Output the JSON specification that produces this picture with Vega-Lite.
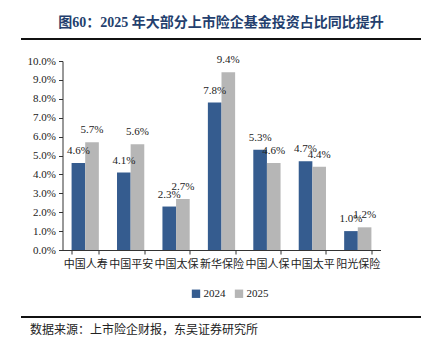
{
  "$schema": "https://vega.github.io/schema/vega-lite/v6.json",
  "padding": {"left": 20, "top": 16, "right": 6, "bottom": 0},
  "background": "white",
  "center": true,
  "spacing": 14,
  "resolve": {"legend": {"color": "independent"}, "scale": {"y": "independent", "x": "independent"}},
  "config": {
    "view": {"stroke": null},
    "font": "Liberation Serif"
  },
  "datasets": {
    "main": [
      {"company": "中国人寿", "year": "2024", "ratio": 0.046},
      {"company": "中国人寿", "year": "2025", "ratio": 0.057},
      {"company": "中国平安", "year": "2024", "ratio": 0.041},
      {"company": "中国平安", "year": "2025", "ratio": 0.056},
      {"company": "中国太保", "year": "2024", "ratio": 0.023},
      {"company": "中国太保", "year": "2025", "ratio": 0.027},
      {"company": "新华保险", "year": "2024", "ratio": 0.078},
      {"company": "新华保险", "year": "2025", "ratio": 0.094},
      {"company": "中国人保", "year": "2024", "ratio": 0.053},
      {"company": "中国人保", "year": "2025", "ratio": 0.046},
      {"company": "中国太平", "year": "2024", "ratio": 0.047},
      {"company": "中国太平", "year": "2025", "ratio": 0.044},
      {"company": "阳光保险", "year": "2024", "ratio": 0.010},
      {"company": "阳光保险", "year": "2025", "ratio": 0.012}
    ],
    "divider": [{"start": 0, "end": 1, "pos": 0}]
  },
  "vconcat": [
    {
      "width": 400,
      "height": 1,
      "title": {
        "text": "图60：2025 年大部分上市险企基金投资占比同比提升",
        "font": "Liberation Serif, Noto Sans CJK SC",
        "fontSize": 14,
        "fontWeight": "bold",
        "color": "#243F6E",
        "anchor": "middle",
        "offset": 8
      },
      "data": {"name": "divider"},
      "mark": {"type": "rule", "color": "#111111", "strokeWidth": 2},
      "encoding": {
        "x": {"field": "start", "type": "quantitative", "axis": null, "scale": {"domain": [0, 1]}},
        "x2": {"field": "end"},
        "y": {"field": "pos", "type": "quantitative", "axis": null, "scale": {"domain": [0, 1]}}
      }
    },
    {
      "width": 318,
      "height": 189,
      "data": {"name": "main"},
      "encoding": {
        "x": {
          "field": "company",
          "type": "nominal",
          "sort": null,
          "scale": {"paddingInner": 0.4, "paddingOuter": 0.2},
          "axis": {
            "title": null,
            "labelAngle": 0,
            "labelFont": "Noto Sans CJK SC",
            "labelFontSize": 11,
            "labelColor": "#222222",
            "labelPadding": 4,
            "labelOverlap": false,
            "tickBand": "extent",
            "tickSize": 4,
            "tickColor": "#333333",
            "domainColor": "#333333"
          }
        },
        "xOffset": {"field": "year", "type": "nominal", "scale": {"paddingInner": 0}},
        "y": {
          "field": "ratio",
          "type": "quantitative",
          "scale": {"domain": [0, 0.1]},
          "axis": {
            "title": null,
            "grid": false,
            "values": [0, 0.01, 0.02, 0.03, 0.04, 0.05, 0.06, 0.07, 0.08, 0.09, 0.1],
            "format": ".1%",
            "labelOverlap": false,
            "labelFont": "Liberation Serif",
            "labelFontSize": 11,
            "labelColor": "#222222",
            "tickSize": 4,
            "tickColor": "#333333",
            "domainColor": "#333333",
            "labelPadding": 3
          }
        }
      },
      "layer": [
        {
          "mark": {"type": "bar"},
          "encoding": {
            "color": {
              "field": "year",
              "type": "nominal",
              "scale": {"domain": ["2024", "2025"], "range": ["#355C8F", "#B6B6B6"]},
              "legend": {
                "orient": "none",
                "legendX": 125,
                "legendY": 224,
                "direction": "horizontal",
                "title": null,
                "symbolType": "square",
                "symbolSize": 70,
                "symbolStrokeWidth": 0,
                "labelFont": "Liberation Serif",
                "labelFontSize": 11,
                "labelColor": "#222222",
                "labelOffset": 2,
                "columnPadding": 8,
                "padding": 3
              }
            }
          }
        },
        {
          "mark": {
            "type": "text",
            "baseline": "middle",
            "align": "center",
            "dy": -12,
            "font": "Liberation Serif",
            "fontSize": 11,
            "color": "#222222"
          },
          "encoding": {
            "text": {"field": "ratio", "type": "quantitative", "format": ".1%"},
            "detail": {"field": "year"}
          }
        }
      ]
    },
    {
      "width": 400,
      "height": 1,
      "title": {
        "text": "数据来源：上市险企财报，东吴证券研究所",
        "orient": "bottom",
        "anchor": "start",
        "font": "Noto Sans CJK SC",
        "fontSize": 12,
        "fontWeight": "normal",
        "color": "#222222",
        "offset": 7,
        "dx": 10
      },
      "data": {"name": "divider"},
      "mark": {"type": "rule", "color": "#111111", "strokeWidth": 2},
      "encoding": {
        "x": {"field": "start", "type": "quantitative", "axis": null, "scale": {"domain": [0, 1]}},
        "x2": {"field": "end"},
        "y": {"field": "pos", "type": "quantitative", "axis": null, "scale": {"domain": [0, 1]}}
      }
    }
  ]
}
